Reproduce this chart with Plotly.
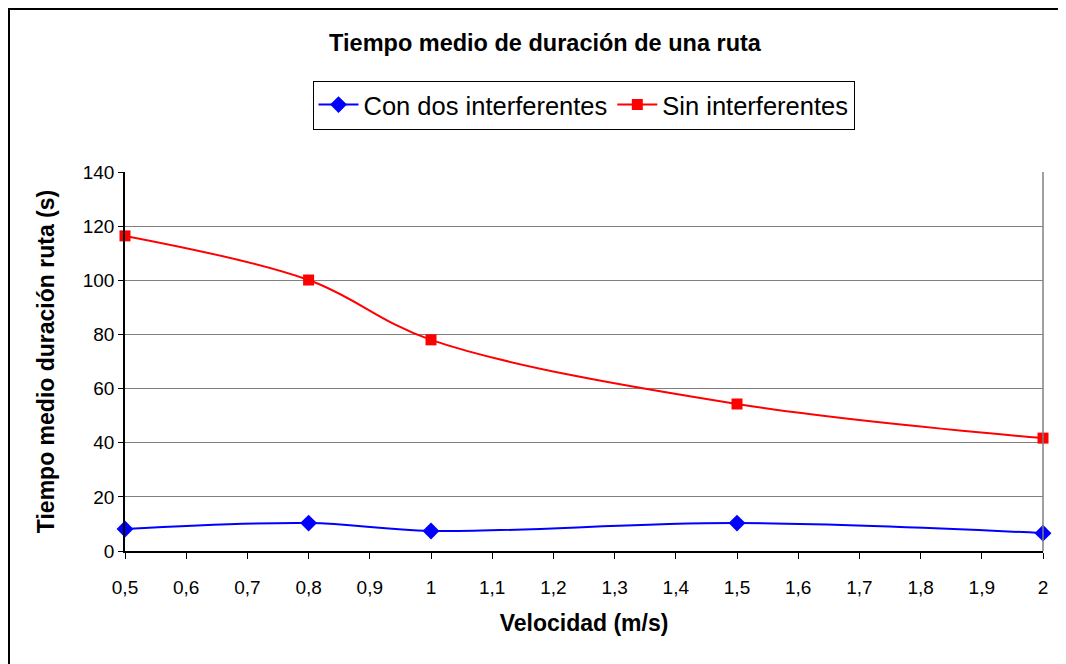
import plotly.graph_objects as go

velocidad = [0.5, 0.8, 1.0, 1.5, 2.0]
con_dos = [8.1, 10.3, 7.4, 10.3, 6.6]
sin_interf = [116.4, 100.1, 78.0, 54.3, 41.7]

W, H = 1066, 664
OFF = 8  # page body margin
# plot area in screen pixels
SX0, SX1, SY0, SY1 = 125, 1043, 172, 551
L = SX0 - OFF
R = W - (SX1 - OFF)
T = SY0 - OFF
B = H - (SY1 - OFF)
pw, ph = SX1 - SX0, SY1 - SY0

def px_x(s):
    return (s - SX0) / pw

def px_y(s):
    return (SY1 - s) / ph

fig = go.Figure()
fig.add_trace(go.Scatter(
    x=velocidad, y=con_dos, name="Con dos interferentes",
    mode="lines+markers", line=dict(color="#0000FF", width=2, shape="spline", smoothing=1),
    marker=dict(symbol="diamond", size=13, color="#0000FF"), cliponaxis=False))
fig.add_trace(go.Scatter(
    x=velocidad, y=sin_interf, name="Sin interferentes",
    mode="lines+markers", line=dict(color="#FF0000", width=2, shape="spline", smoothing=1),
    marker=dict(symbol="square", size=11, color="#FF0000"), cliponaxis=False))

fig.update_layout(
    width=W, height=H,
    margin=dict(l=L, r=R, t=T, b=B),
    paper_bgcolor="white", plot_bgcolor="white",
    separators=",.",
    font=dict(family="Liberation Sans, Arial, sans-serif", color="black"),
    title=dict(text="<b>Tiempo medio de duración de una ruta</b>",
               x=(545 - OFF) / W, xanchor="center", y=1 - (43 - OFF) / H, yanchor="middle",
               font=dict(size=23.5, color="black")),
    legend=dict(orientation="h", x=px_x(583.5), xanchor="center",
                y=px_y(105), yanchor="middle",
                bordercolor="black", borderwidth=1, bgcolor="white",
                font=dict(size=25.5, color="black"), itemwidth=40,
                tracegroupgap=0),
    xaxis=dict(range=[0.5, 2], dtick=0.1, tick0=0.5, showgrid=False,
               showline=True, linecolor="black", linewidth=1.5,
               ticks="outside", ticklen=6, tickcolor="black",
               ticklabelstandoff=12,
               tickfont=dict(size=19), zeroline=False,
               title=dict(text="<b>Velocidad (m/s)</b>", font=dict(size=23), standoff=18)),
    yaxis=dict(range=[0, 140], dtick=20, showgrid=True, gridcolor="#808080", gridwidth=1,
               showline=True, linecolor="black", linewidth=1.5,
               ticks="outside", ticklen=5, tickcolor="black",
               tickfont=dict(size=19), zeroline=False,
               title=dict(text="<b>Tiempo medio duración ruta (s)</b>", font=dict(size=23), standoff=22)),
    shapes=[
        dict(type="line", xref="paper", yref="paper", x0=1, x1=1, y0=0, y1=1,
             line=dict(color="#808080", width=1.5)),
        dict(type="rect", xref="paper", yref="paper",
             x0=px_x(OFF + 1), x1=px_x(1090), y0=px_y(690), y1=px_y(OFF + 1),
             line=dict(color="black", width=2), layer="below"),
    ],
)

fig.write_html("out.html")
